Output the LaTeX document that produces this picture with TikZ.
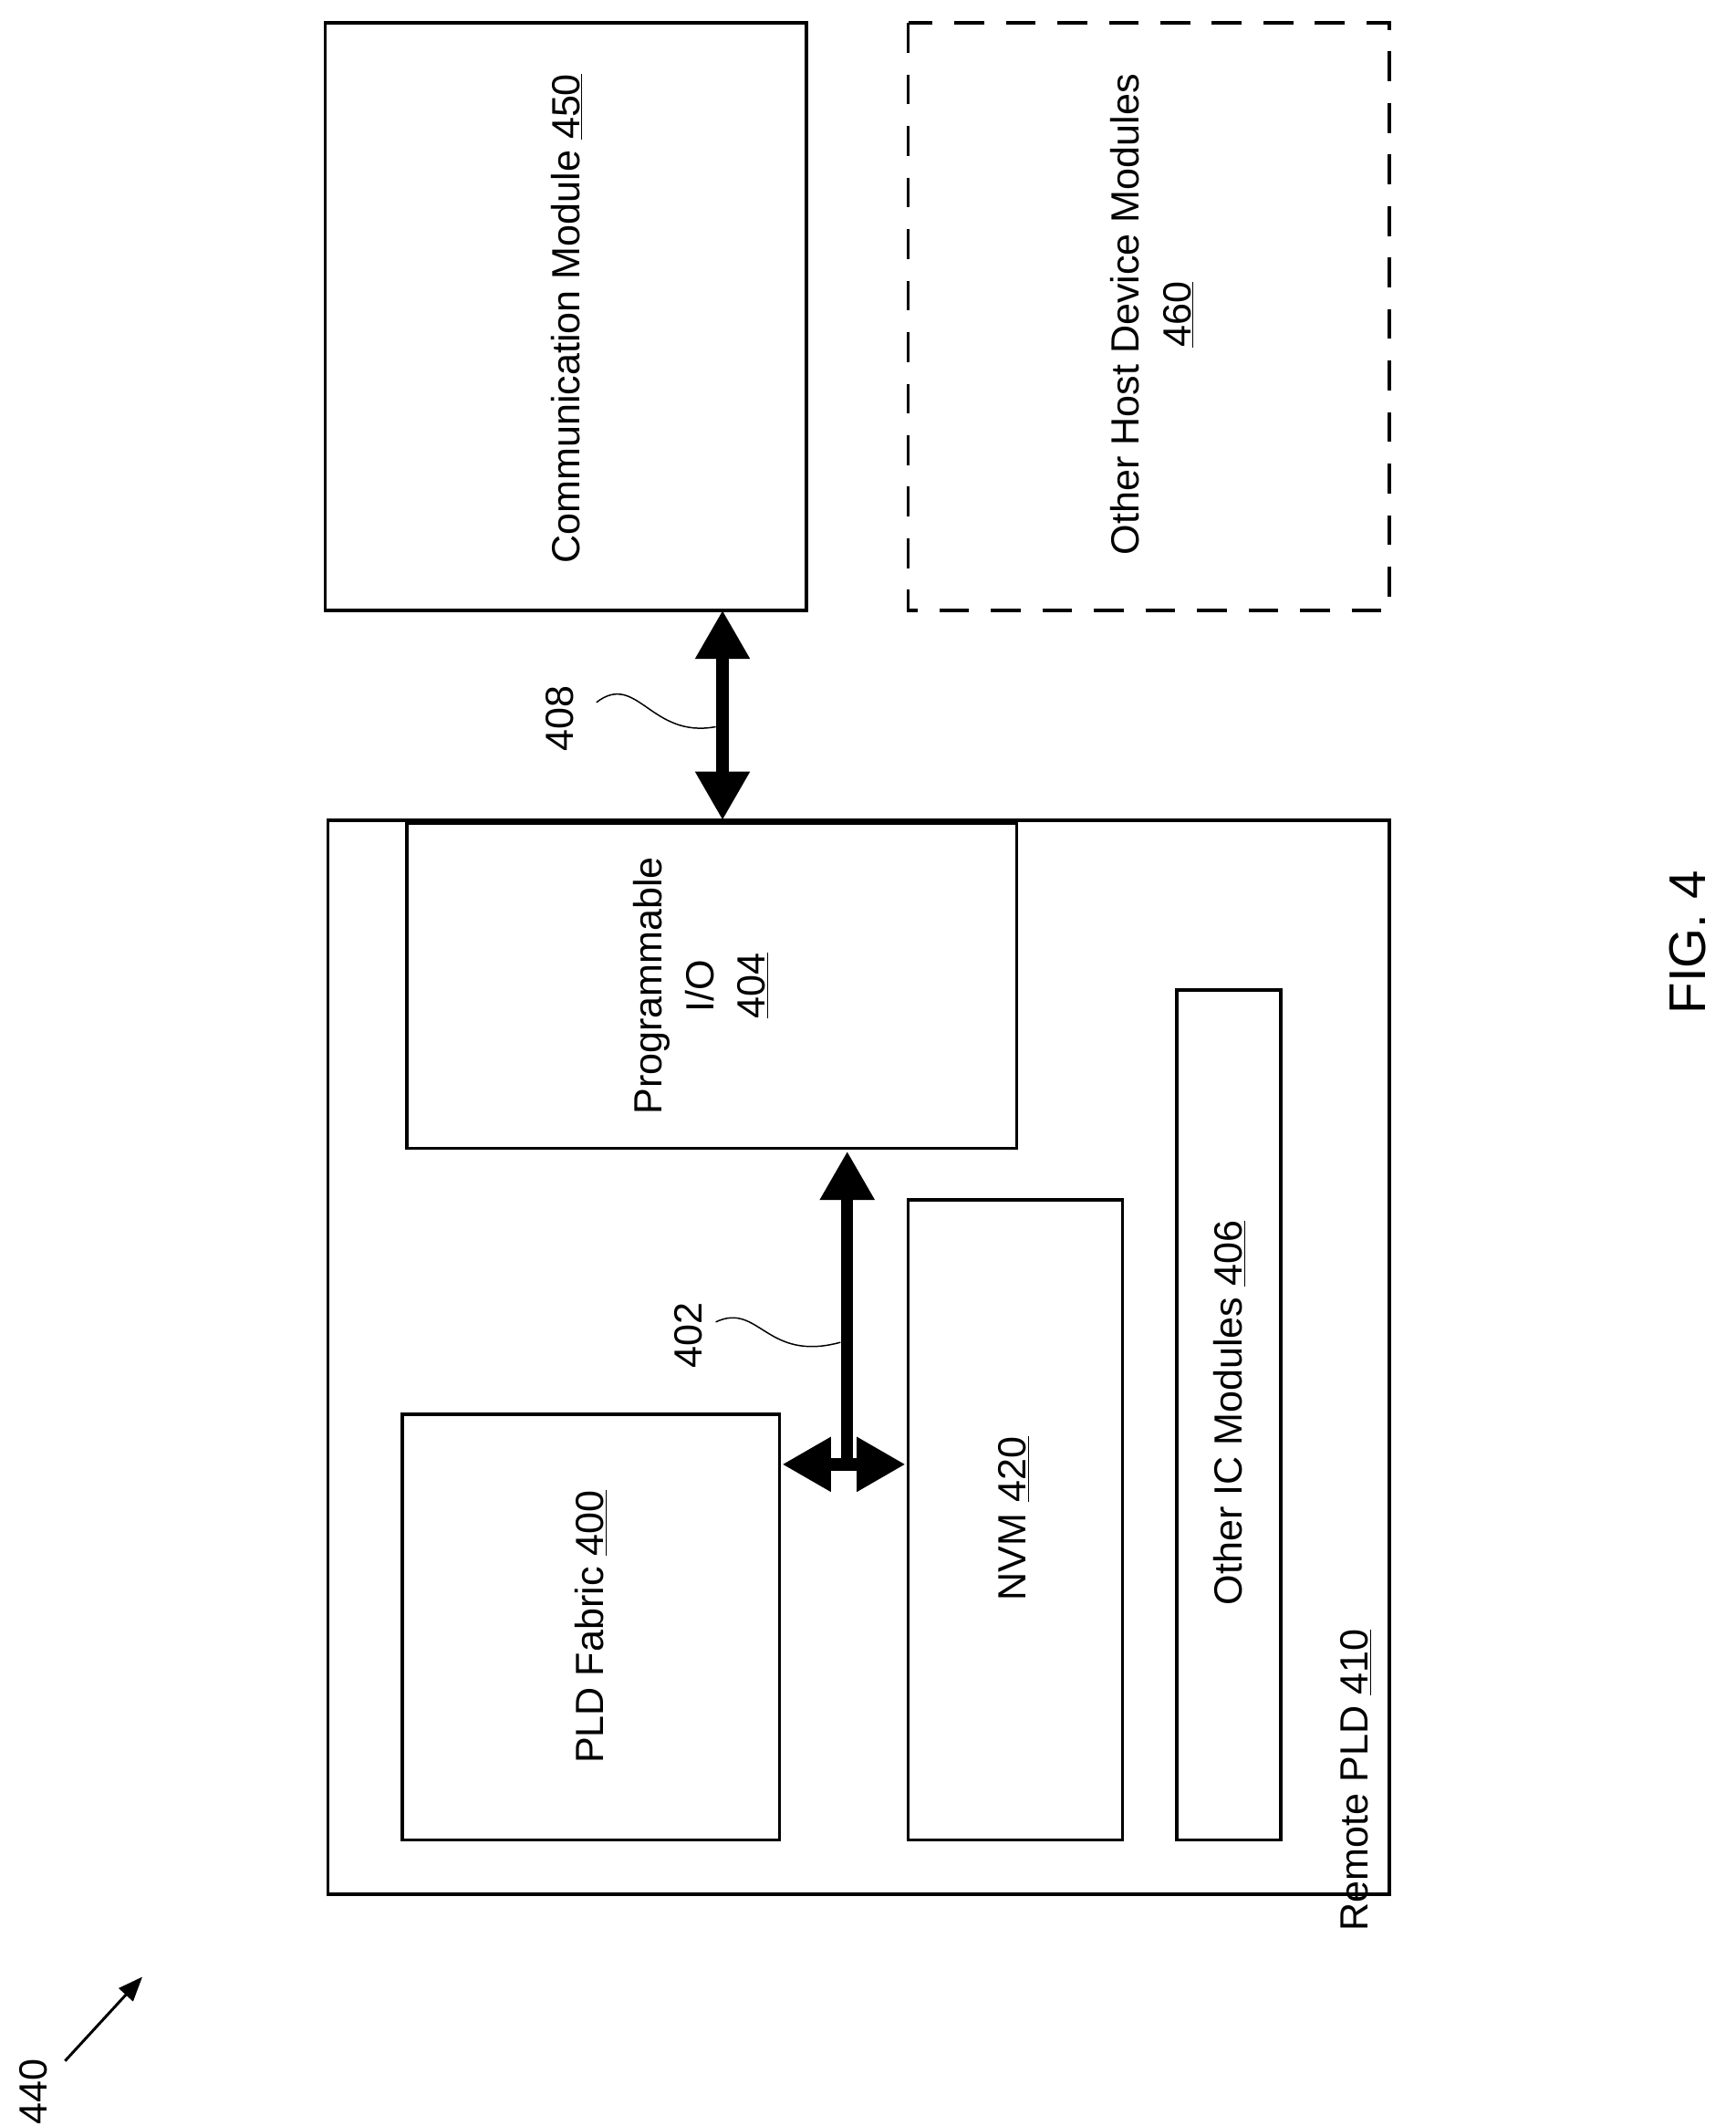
\documentclass[tikz,border=0pt]{standalone}
\usepackage{fontspec}
\setmainfont{Liberation Sans}
\usetikzlibrary{arrows.meta}
\begin{document}
\begin{tikzpicture}[x=1pt,y=-1pt,
  box/.style={draw,line width=2.5pt},
  lbl/.style={rotate=90,font=\fontsize{29}{38}\selectfont,align=center,inner sep=0},
  bus/.style={line width=9pt,{Triangle[width=38pt,length=36pt]}-{Triangle[width=38pt,length=36pt]}},
  bus1/.style={line width=9pt,-{Triangle[width=38pt,length=36pt]}},
  sq/.style={line width=1pt}]
\useasboundingbox (0,0) rectangle (1280,1568);
\draw[box] (240,17) rectangle (595,450);
\node[lbl] (cm) at (418,235) {Communication Module \underline{450}};
\draw[box,dash pattern=on 22pt off 16pt] (670,17) rectangle (1025,450);
\node[lbl] (oh) at (850,232) {Other Host Device Modules\\\underline{460}};
\draw[box] (242,605) rectangle (1025,1397);
\node[lbl] (rp) at (1000,1313) {Remote PLD \underline{410}};
\draw[box,fill=white] (300,607) rectangle (750,847);
\coordinate (pio) at (750,847);
\node[lbl] (piol) at (517,727) {Programmable\\I/O\\\underline{404}};
\draw[box] (297,1043) rectangle (575,1357);
\node[lbl] (fab) at (436,1200) {PLD Fabric \underline{400}};
\draw[box] (670,885) rectangle (828,1357);
\node[lbl] (nvm) at (748,1120) {NVM \underline{420}};
\draw[box] (868,730) rectangle (945,1357);
\node[lbl] (oic) at (907,1042) {Other IC Modules \underline{406}};
\coordinate (cmb) at (533,450);
\coordinate (pldt) at (533,605);
\draw[bus] (cmb) -- (pldt);
\coordinate (fe) at (577,1080);
\coordinate (nw) at (668,1080);
\coordinate (j) at (625,1080);
\coordinate (ps) at (625,849);
\draw[bus] (fe) -- (nw);
\draw[bus1] (j) -- (ps);
\node[lbl] (l408) at (413,530) {408};
\draw[sq] (440,518) .. controls (470,495) and (480,545) .. (528,536);
\node[lbl] (l402) at (508,985) {402};
\draw[sq] (528,975) .. controls (560,960) and (565,1005) .. (620,990);
\node[lbl,font=\fontsize{38}{44}\selectfont] (fig) at (1245,695) {FIG. 4};
\node[lbl] (l440) at (25,1543) {440};
\coordinate (a1) at (48,1520);
\coordinate (a2) at (105,1458);
\draw[line width=2pt,-{Triangle[width=14pt,length=18pt]}] (a1) -- (a2);
\end{tikzpicture}
\end{document}
